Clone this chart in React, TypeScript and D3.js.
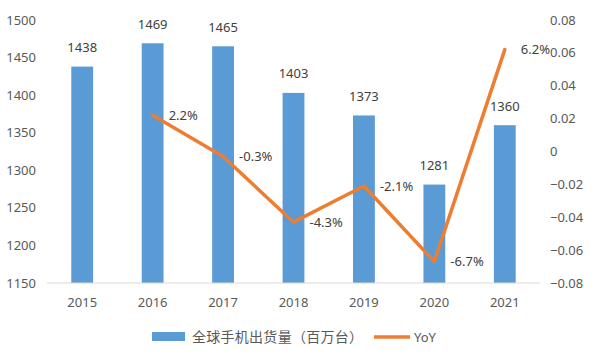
import React from "react";
import * as d3 from "d3";

const years = ["2015", "2016", "2017", "2018", "2019", "2020", "2021"];
const shipments = [1438, 1469, 1465, 1403, 1373, 1281, 1360];
const yoy: (number | null)[] = [null, 0.022, -0.003, -0.043, -0.021, -0.067, 0.062];
const yoyLabels = ["", "2.2%", "-0.3%", "-4.3%", "-2.1%", "-6.7%", "6.2%"];
const leftTicks = [1150, 1200, 1250, 1300, 1350, 1400, 1450, 1500];
const rightTicks = [-0.08, -0.06, -0.04, -0.02, 0, 0.02, 0.04, 0.06, 0.08];
const barName = "全球手机出货量（百万台）";
const lineName = "YoY";

const W = 595, H = 357;
const plotLeft = 47, plotRight = 540, plotTop = 20, plotBottom = 283;
const BLUE = "#5B9BD5", ORANGE = "#ED7D31", TEXT = "#595959", LABEL = "#404040";
const FONT = "'Noto Sans', 'Noto Sans CJK SC', sans-serif";
const CJK = "'Noto Sans CJK SC', sans-serif";

export default function App() {
  const x = d3.scaleBand().domain(years).range([plotLeft, plotRight]).paddingInner(0.69).paddingOuter(0.345);
  const yL = d3.scaleLinear().domain([1150, 1500]).range([plotBottom, plotTop]);
  const yR = d3.scaleLinear().domain([-0.08, 0.08]).range([plotBottom, plotTop]);
  const cx = (d: string) => (x(d) as number) + x.bandwidth() / 2;
  const pts = years.map((y, i) => ({ y, v: yoy[i], l: yoyLabels[i] })).filter(p => p.v !== null) as { y: string; v: number; l: string }[];
  const line = d3.line<{ y: string; v: number }>().x(d => cx(d.y)).y(d => yR(d.v));
  const fmtR = (v: number) => (v === 0 ? "0" : d3.format(".2f")(v));

  return (
    <svg width={W} height={H} style={{ position: "absolute", left: 0, top: 0, background: "#fff" }} fontFamily={FONT}>
      {leftTicks.map(t => (
        <text key={t} x={36} y={yL(t)} dy="0.35em" textAnchor="end" fontSize={13} fill={TEXT}>{t}</text>
      ))}
      {rightTicks.map(t => (
        <text key={t} x={550} y={yR(t)} dy="0.35em" textAnchor="start" fontSize={13} fill={TEXT}>{fmtR(t)}</text>
      ))}
      {years.map((yr, i) => (
        <g key={yr}>
          <rect x={x(yr)} y={yL(shipments[i])} width={x.bandwidth()} height={plotBottom - yL(shipments[i])} fill={BLUE} />
          <text x={cx(yr)} y={yL(shipments[i]) - 19} dy="0.35em" textAnchor="middle" fontSize={13} fill={LABEL}>{shipments[i]}</text>
          <text x={cx(yr)} y={302} dy="0.35em" textAnchor="middle" fontSize={13} fill={TEXT}>{yr}</text>
        </g>
      ))}
      <line x1={plotLeft} x2={plotRight} y1={plotBottom} y2={plotBottom} stroke="#D9D9D9" strokeWidth={1} />
      <path d={line(pts) || ""} fill="none" stroke={ORANGE} strokeWidth={3.5} strokeLinejoin="round" strokeLinecap="round" />
      {pts.map(p => (
        <text key={p.y} x={cx(p.y) + 16} y={yR(p.v)} dy="0.35em" textAnchor="start" fontSize={13} fill={LABEL}>{p.l}</text>
      ))}
      <rect x={152} y={332} width={33} height={9} fill={BLUE} />
      <text x={192} y={337} dy="0.35em" fontSize={14} fontFamily={CJK} fill={TEXT} textLength={171} lengthAdjust="spacing">{barName}</text>
      <line x1={374} x2={410} y1={337} y2={337} stroke={ORANGE} strokeWidth={3.5} />
      <text x={414} y={337} dy="0.35em" fontSize={13} fill={TEXT}>{lineName}</text>
    </svg>
  );
}
